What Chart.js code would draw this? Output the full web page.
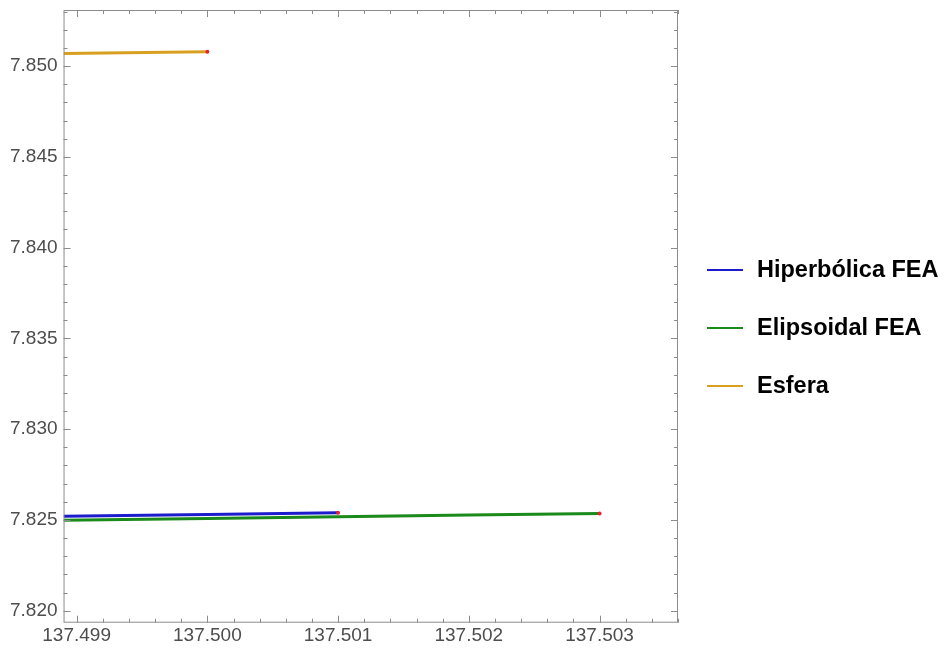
<!DOCTYPE html>
<html>
<head>
<meta charset="utf-8">
<script src="https://cdn.jsdelivr.net/npm/chart.js@4/dist/chart.umd.min.js"></script>
<style>
  body { margin: 0; background: #fff; }
  #wrap { width: 943px; height: 648px; }
</style>
</head>
<body>
<div id="wrap"><canvas id="grafico"></canvas></div>
<script>
// valores
const hiperbolicaX = [137.4989, 137.5000, 137.5010]
const hiperbolicaY = [7.82520, 7.82530, 7.82539]

const elipsoidalX = [137.4989, 137.5000, 137.5010, 137.5020, 137.5030]
const elipsoidalY = [7.82499, 7.82508, 7.82517, 7.82527, 7.82536]

const esferaX = [137.4989, 137.5000]
const esferaY = [7.85070, 7.85079]

const nomes = ['Hiperbólica FEA', 'Elipsoidal FEA', 'Esfera']
const cores = ['#1c1ccc', '#1a8a1a', '#d9a020']

const limiteX = [137.4989, 137.5036]
const limiteY = [7.81934, 7.85309]

const fonte = 'Liberation Sans, Arial, sans-serif'

function toPoints(xs, ys) {
    return xs.map((x, i) => ({ x: x, y: ys[i] }))
}

function buildDataset(label, xs, ys, color) {
    return {
        label: label,
        data: toPoints(xs, ys),
        showLine: true,
        borderColor: color,
        backgroundColor: color,
        borderWidth: 3,
        clip: 0,
        pointRadius: ctx => ctx.dataIndex === xs.length - 1 ? 2 : 0,
        pointBackgroundColor: '#e8242a',
        pointBorderWidth: 0,
        pointHoverRadius: 0
    }
}

// moldura com marcas para dentro, como no original
const moldura = {
    id: 'moldura',
    afterDraw(chart) {
        const { ctx, chartArea: a, scales } = chart
        const sx = scales.x
        const sy = scales.y
        ctx.save()
        ctx.strokeStyle = '#8c8c8c'
        ctx.lineWidth = 1
        ctx.strokeRect(a.left + 0.5, a.top + 0.5, a.right - a.left - 1, a.bottom - a.top - 1)

        ctx.beginPath()
        let passoX = 0.0002
        for (let i = Math.ceil(sx.min / passoX - 1e-6); i <= Math.floor(sx.max / passoX + 1e-6); i++) {
            let px = Math.round(sx.getPixelForValue(i * passoX)) + 0.5
            let len = i % 5 === 0 ? 7 : 4
            ctx.moveTo(px, a.bottom); ctx.lineTo(px, a.bottom - len)
            ctx.moveTo(px, a.top); ctx.lineTo(px, a.top + len)
        }
        let passoY = 0.001
        for (let i = Math.ceil(sy.min / passoY - 1e-6); i <= Math.floor(sy.max / passoY + 1e-6); i++) {
            let py = Math.round(sy.getPixelForValue(i * passoY)) + 0.5
            let len = i % 5 === 0 ? 7 : 4
            ctx.moveTo(a.left, py); ctx.lineTo(a.left + len, py)
            ctx.moveTo(a.right, py); ctx.lineTo(a.right - len, py)
        }
        ctx.stroke()
        ctx.restore()
    }
}

// legenda desenhada a direita do grafico
const legenda = {
    id: 'legenda',
    afterDraw(chart) {
        const ctx = chart.ctx
        const a = chart.chartArea
        ctx.save()
        ctx.font = 'bold 23.5px ' + fonte
        ctx.textBaseline = 'middle'
        ctx.textAlign = 'left'
        chart.data.datasets.forEach((ds, i) => {
            let y = 270 + i * 58
            let x0 = a.right + 29
            ctx.strokeStyle = ds.borderColor
            ctx.lineWidth = 2
            ctx.beginPath()
            ctx.moveTo(x0, y)
            ctx.lineTo(x0 + 36, y)
            ctx.stroke()
            ctx.fillStyle = '#000'
            ctx.fillText(ds.label, x0 + 50, y + 1)
        })
        ctx.restore()
    }
}

new Chart(document.getElementById('grafico'), {
    type: 'scatter',
    data: {
        datasets: [
            buildDataset(nomes[0], hiperbolicaX, hiperbolicaY, cores[0]),
            buildDataset(nomes[1], elipsoidalX, elipsoidalY, cores[1]),
            buildDataset(nomes[2], esferaX, esferaY, cores[2])
        ]
    },
    options: {
        responsive: true,
        maintainAspectRatio: false,
        animation: false,
        layout: { padding: { left: 4, top: 10, right: 265, bottom: 0 } },
        plugins: {
            tooltip: { enabled: false },
            legend: { display: false }
        },
        scales: {
            x: {
                type: 'linear',
                min: limiteX[0],
                max: limiteX[1],
                grid: { display: false, drawTicks: false, tickLength: 0 },
                border: { display: false },
                ticks: {
                    stepSize: 0.001,
                    includeBounds: false,
                    maxRotation: 0,
                    padding: 6,
                    color: '#4d4d4d',
                    font: { family: fonte, size: 19, lineHeight: 0.7 },
                    callback: v => v.toFixed(3)
                }
            },
            y: {
                type: 'linear',
                min: limiteY[0],
                max: limiteY[1],
                grid: { display: false, drawTicks: false, tickLength: 0 },
                border: { display: false },
                ticks: {
                    stepSize: 0.005,
                    includeBounds: false,
                    padding: 6,
                    color: '#4d4d4d',
                    font: { family: fonte, size: 19, lineHeight: 0.4 },
                    callback: v => v.toFixed(3)
                }
            }
        }
    },
    plugins: [moldura, legenda]
})
</script>
</body>
</html>
